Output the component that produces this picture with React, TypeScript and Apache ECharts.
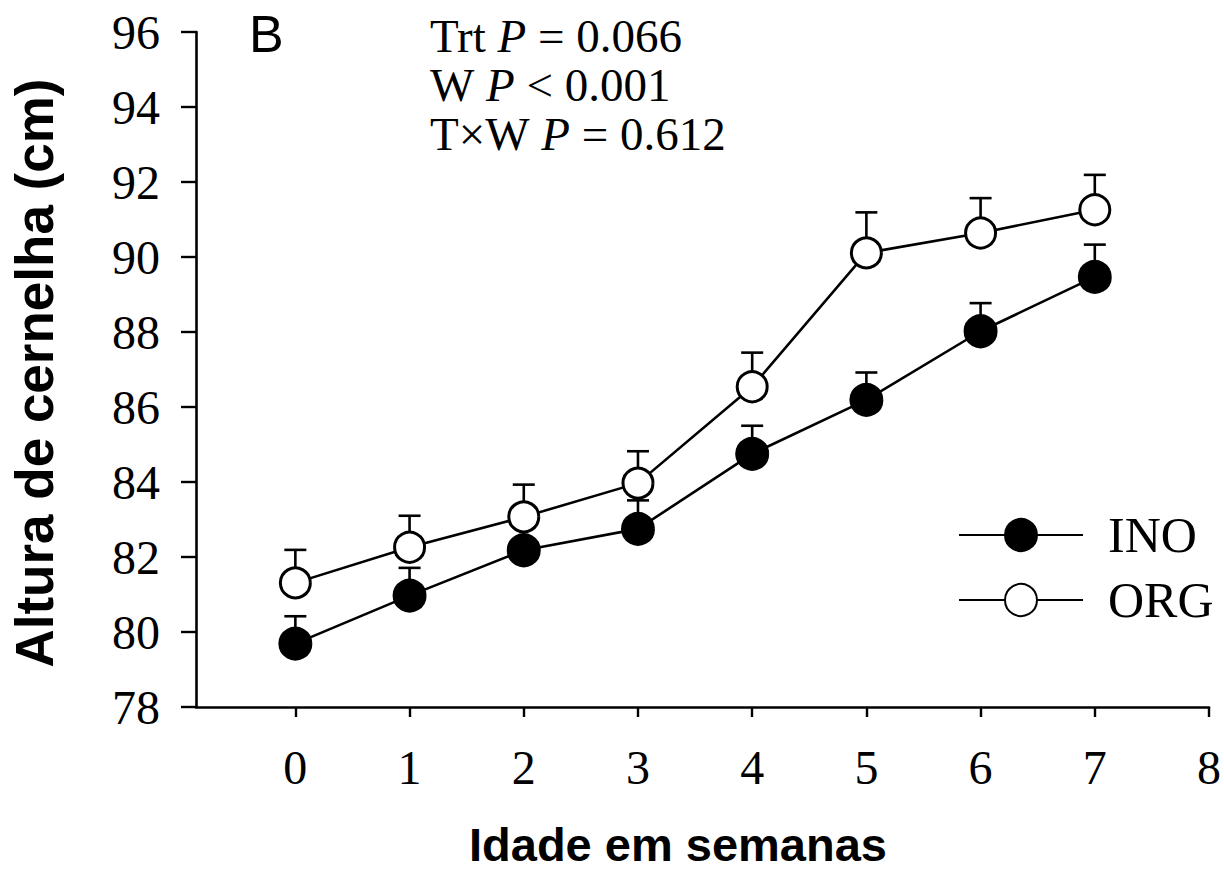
import React, { useEffect, useRef } from "react";
import * as echarts from "echarts";

const weeks = [0, 1, 2, 3, 4, 5, 6, 7];
const xTicks = [0, 1, 2, 3, 4, 5, 6, 7, 8];
const inoMean = [79.69, 80.97, 82.18, 82.75, 84.75, 86.19, 88.02, 89.47];
const inoUpper = [80.42, 81.71, 82.9, 83.51, 85.5, 86.92, 88.77, 90.33];
const orgMean = [81.31, 82.26, 83.07, 83.97, 86.54, 90.11, 90.64, 91.26];
const orgUpper = [82.19, 83.1, 83.93, 84.82, 87.45, 91.19, 91.57, 92.19];
const seriesNames = ["INO", "ORG"];
const yTitle = "Altura de cernelha (cm)";
const xTitle = "Idade em semanas";
const panelLabel = "B";

const SERIF = "'Liberation Serif', 'Times New Roman', serif";
const SANS = "'Liberation Sans', Arial, sans-serif";

function errorSeries(mean: number[], upper: number[]) {
  return {
    type: "custom",
    silent: true,
    z: 1,
    data: weeks.map((w, i) => [w, mean[i], upper[i]]),
    renderItem: (params: any, api: any) => {
      const p0 = api.coord([api.value(0), api.value(1)]);
      const p1 = api.coord([api.value(0), api.value(2)]);
      const hw = 11;
      const style = { stroke: "#000", lineWidth: 2.6 };
      return {
        type: "group",
        children: [
          { type: "line", shape: { x1: p0[0], y1: p0[1], x2: p1[0], y2: p1[1] }, style },
          { type: "line", shape: { x1: p1[0] - hw, y1: p1[1], x2: p1[0] + hw, y2: p1[1] }, style },
        ],
      };
    },
  };
}

export default function App() {
  const ref = useRef<HTMLDivElement>(null);
  useEffect(() => {
    if (!ref.current) return;
    const chart = echarts.init(ref.current, undefined, { renderer: "svg" });
    chart.setOption({
      animation: false,
      backgroundColor: "#fff",
      grid: { left: 196, right: 12, top: 32, bottom: 166, containLabel: false },
      xAxis: {
        type: "value",
        min: -0.87,
        max: 8,
        axisLine: { show: true, onZero: false, lineStyle: { color: "#000", width: 2.6 } },
        axisTick: { show: true, customValues: xTicks, length: 10, lineStyle: { color: "#000", width: 2.4 } },
        axisLabel: {
          customValues: xTicks,
          color: "#000",
          fontFamily: SERIF,
          fontSize: 48,
          margin: 36,
        },
        splitLine: { show: false },
      },
      yAxis: {
        type: "value",
        min: 78,
        max: 96,
        interval: 2,
        axisLine: { show: true, onZero: false, lineStyle: { color: "#000", width: 2.6 } },
        axisTick: { show: true, length: 15, lineStyle: { color: "#000", width: 2.4 } },
        axisLabel: { color: "#000", fontFamily: SERIF, fontSize: 48, margin: 36 },
        splitLine: { show: false },
      },
      legend: {
        orient: "vertical",
        left: 953,
        top: 505,
        itemWidth: 124,
        itemHeight: 40,
        itemGap: 15,
        data: seriesNames,
        textStyle: { fontFamily: SERIF, fontSize: 50, color: "#000", padding: [0, 0, 0, 20] },
      },
      graphic: [
        {
          type: "text",
          x: 34,
          y: 373,
          rotation: Math.PI / 2,
          style: {
            text: yTitle,
            font: `bold 53px ${SANS}`,
            fill: "#000",
            align: "center",
            verticalAlign: "middle",
          },
        },
        {
          type: "text",
          x: 678,
          y: 844,
          style: {
            text: xTitle,
            font: `bold 47px ${SANS}`,
            lineHeight: 46,
            fill: "#000",
            align: "center",
            verticalAlign: "middle",
          },
        },
        {
          type: "text",
          x: 249,
          y: 34,
          style: {
            text: panelLabel,
            font: `52px ${SANS}`,
            fill: "#000",
            align: "left",
            verticalAlign: "middle",
          },
        },
        {
          type: "text",
          x: 430,
          y: 11,
          style: {
            text: "{n|Trt }{i|P}{n| = 0.066}\n{n|W }{i|P}{n| < 0.001}\n{n|T×W }{i|P}{n| = 0.612}",
            fill: "#000",
            align: "left",
            verticalAlign: "top",
            rich: {
              n: { fontFamily: SERIF, fontSize: 47, lineHeight: 49, fill: "#000" },
              i: { fontFamily: SERIF, fontSize: 47, fontStyle: "italic", lineHeight: 49, fill: "#000" },
            },
          },
        },
      ],
      series: [
        errorSeries(inoMean, inoUpper),
        errorSeries(orgMean, orgUpper),
        {
          name: seriesNames[0],
          type: "line",
          z: 3,
          data: weeks.map((w, i) => [w, inoMean[i]]),
          symbol: "circle",
          symbolSize: 32,
          lineStyle: { color: "#000", width: 2.6 },
          itemStyle: { color: "#000", borderColor: "#000", borderWidth: 2 },
        },
        {
          name: seriesNames[1],
          type: "line",
          z: 3,
          data: weeks.map((w, i) => [w, orgMean[i]]),
          symbol: "circle",
          symbolSize: 30,
          lineStyle: { color: "#000", width: 2.6 },
          itemStyle: { color: "#fff", borderColor: "#000", borderWidth: 3 },
        },
      ],
    });
    return () => chart.dispose();
  }, []);
  return (
    <div
      ref={ref}
      style={{ position: "fixed", left: 0, top: 0, width: 1224, height: 873, background: "#fff" }}
    />
  );
}
